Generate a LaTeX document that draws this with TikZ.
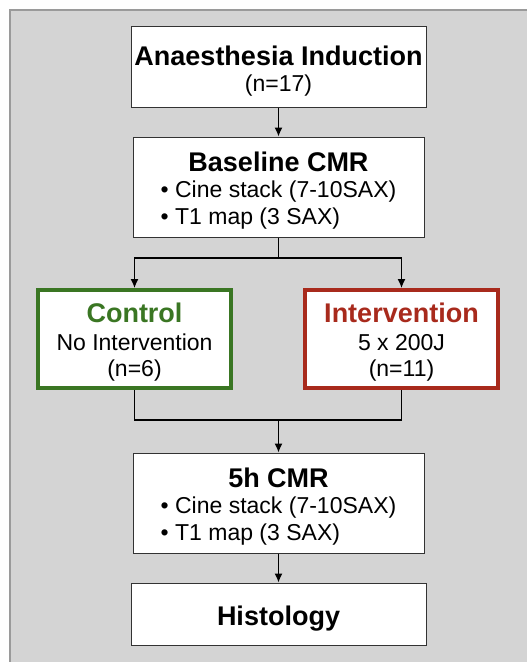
\documentclass[tikz,border=0pt]{standalone}
\usepackage{fontspec}
\setmainfont{Liberation Sans}
\usetikzlibrary{arrows.meta}
\definecolor{panel}{HTML}{D4D4D4}
\definecolor{panelline}{HTML}{9A9A9A}
\definecolor{boxline}{HTML}{333333}
\definecolor{ctrlgreen}{HTML}{3A7623}
\definecolor{intred}{HTML}{A82A1C}
\newcommand{\titlef}{\fontsize{27}{30}\selectfont\bfseries}
\newcommand{\bodyf}{\fontsize{23}{27}\selectfont}
\newcommand{\lift}[1]{\rule{0pt}{#1}}
\tikzset{
  box/.style={draw=boxline, line width=1pt, fill=white, align=center, inner sep=0pt, font=\bodyf},
  groupbox/.style={fill=white, line width=4pt, align=center, inner sep=0pt, font=\bodyf, minimum width=193pt, minimum height=98pt},
  conn/.style={line width=1.3pt, black},
  arr/.style={conn, -{Latex[length=9pt,width=8pt]}}
}
\begin{document}
\begin{tikzpicture}[x=1pt,y=-1pt]
\useasboundingbox (0,0) rectangle (527,662);
\fill[panel] (10,10) rectangle (527,662);
\draw[panelline, line width=2pt] (10,662) -- (10,10) -- (527,10);

\node[box, minimum width=295pt, minimum height=81pt] (ind) at (278.5,66.5)
  {{\titlef\lift{28pt}Anaesthesia Induction}\\[-1pt](n=17)};
\node[box, minimum width=291pt, minimum height=100pt] (base) at (278.5,187)
  {{\titlef\lift{30pt}Baseline CMR}\\[-1pt]\begin{tabular}[t]{@{}l@{}}•~Cine stack (7-10SAX)\\[-0.5pt]•~T1 map (3 SAX)\end{tabular}};
\node[groupbox, draw=ctrlgreen] (ctrl) at (134.5,339)
  {{\titlef\color{ctrlgreen}\lift{26pt}Control}\\[1pt]No Intervention\\[-1pt](n=6)};
\node[groupbox, draw=intred] (intv) at (401.5,339)
  {{\titlef\color{intred}\lift{26pt}Intervention}\\[1pt]5 x 200J\\[-1pt](n=11)};
\node[box, minimum width=291pt, minimum height=100pt] (five) at (278.5,503)
  {{\titlef\lift{30pt}5h CMR}\\[-1pt]\begin{tabular}[t]{@{}l@{}}•~Cine stack (7-10SAX)\\[-0.5pt]•~T1 map (3 SAX)\end{tabular}};
\node[box, minimum width=295pt, minimum height=62pt] (hist) at (278.5,614)
  {\titlef\lift{28pt}Histology};

\coordinate (split) at (278.5,258);
\coordinate (merge) at (278.5,420);

\draw[arr] (ind.south) -- (base.north);
\draw[conn] (base.south) -- (split);
\draw[arr] (split) -| (ctrl.north);
\draw[arr] (split) -| (intv.north);
\draw[conn] (ctrl.south) |- (merge);
\draw[conn] (intv.south) |- (merge);
\draw[arr] (merge) -- (five.north);
\draw[arr] (five.south) -- (hist.north);
\end{tikzpicture}
\end{document}
